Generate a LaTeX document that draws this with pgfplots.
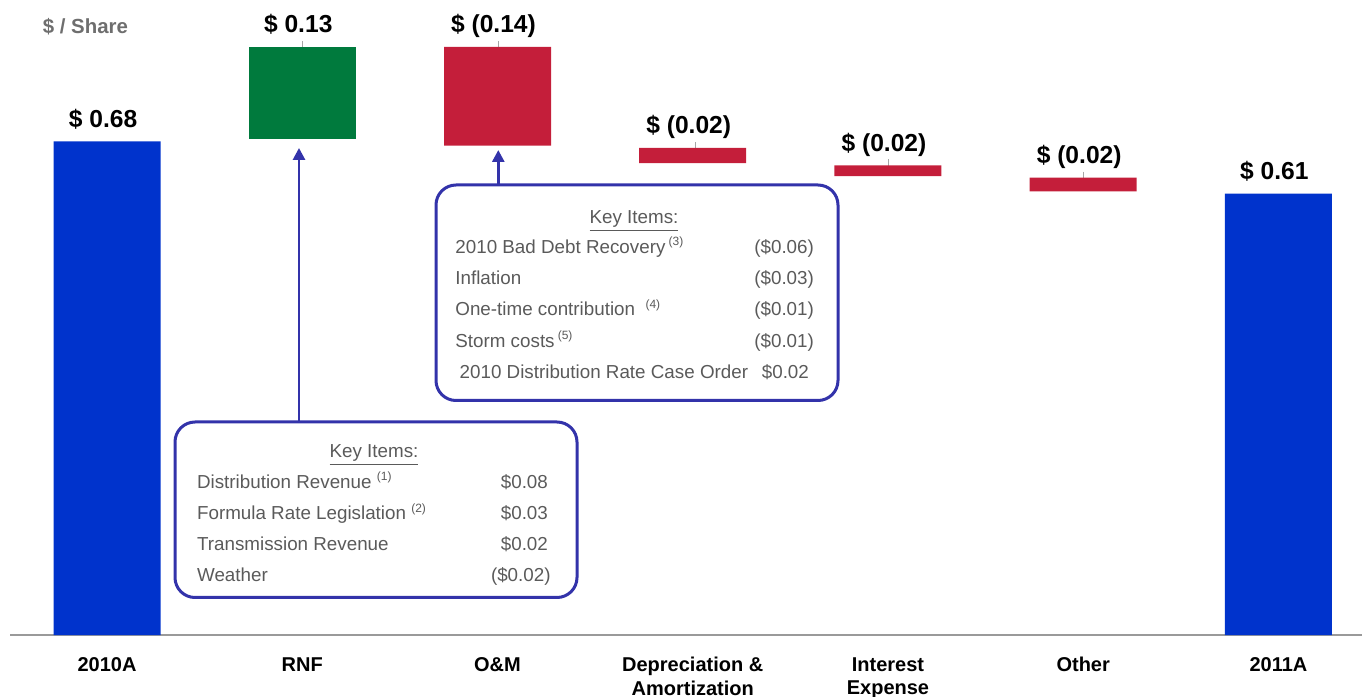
\documentclass[border=0pt]{standalone}
\usepackage{fontspec}
\setmainfont{Liberation Sans}
\usepackage{pgfplots}
\usepackage{pgfplotstable}
\pgfplotsset{compat=1.18}
\usetikzlibrary{arrows.meta}
\definecolor{barblue}{HTML}{0033CC}
\definecolor{bargreen}{HTML}{007A3D}
\definecolor{barred}{HTML}{C41E3A}
\definecolor{boxblue}{HTML}{3333AA}
\definecolor{txtgray}{HTML}{5A5A5A}
\definecolor{axgray}{HTML}{9A9A9A}
\definecolor{hdrgray}{HTML}{6E6E6E}

\pgfplotstableread{
x base total up down
0 0     0.680 0     0
1 0.683 0     0.127 0
2 0.674 0     0     0.136
3 0.650 0     0     0.021
4 0.632 0     0     0.015
5 0.611 0     0     0.019
6 0     0.608 0     0
}\wf

\newcommand{\boxf}{\fontsize{9.4}{11}\selectfont}
\newcommand{\fn}[1]{\textsuperscript{\fontsize{6}{7}\selectfont #1}}
\tikzset{
  lbl/.style={anchor=base, yshift=7pt, xshift=-2pt, inner sep=0pt, font=\fontsize{12.3}{14}\selectfont\bfseries},
  ldr/.style={gray!70, line width=0.5pt},
}

\begin{document}
\begin{tikzpicture}
\path[use as bounding box] (0,0) rectangle (681pt,348.5pt);
\begin{axis}[
  at={(5pt,31pt)}, anchor=south west, scale only axis,
  width=676pt, height=308.55pt,
  xmin=-0.497, xmax=6.428, ymin=0, ymax=0.85,
  ybar stacked, bar width=53.5pt,
  axis x line*=bottom, axis y line=none,
  axis line style={axgray, line width=0.75pt},
  xtick={0,1,2,3,4,5,6},
  xticklabels={2010A,RNF,O\&M,{Depreciation \&\\Amortization},{Interest\\Expense},Other,2011A},
  xticklabel style={font=\fontsize{10}{11.75}\selectfont\bfseries, align=center, anchor=north, inner sep=0pt, yshift=-11pt},
  major tick length=0pt, ytick=\empty,
  clip=false,
]
\addplot[draw=none, fill=none] table[x=x,y=base]{\wf};
\addplot[draw=none, fill=barblue] table[x=x,y=total]{\wf};
\addplot[draw=none, fill=bargreen] table[x=x,y=up]{\wf};
\addplot[draw=none, fill=barred] table[x=x,y=down]{\wf};

\node[lbl] at (axis cs:0,0.680) {\$ 0.68};
\node[lbl] at (axis cs:1,0.810) {\$ 0.13};
\node[lbl] at (axis cs:2,0.810) {\$ (0.14)};
\node[lbl] at (axis cs:3,0.671) {\$ (0.02)};
\node[lbl] at (axis cs:4,0.647) {\$ (0.02)};
\node[lbl] at (axis cs:5,0.630) {\$ (0.02)};
\node[lbl] at (axis cs:6,0.608) {\$ 0.61};

\draw[ldr] (axis cs:1,0.810) ++(0.3pt,3pt) -- ++(0pt,-8.5pt);
\draw[ldr] (axis cs:2,0.810) ++(0.3pt,3pt) -- ++(0pt,-8.5pt);
\draw[ldr] (axis cs:3,0.671) ++(1.2pt,3pt) -- ++(0pt,-6pt);
\draw[ldr] (axis cs:4,0.647) ++(0.3pt,3pt) -- ++(0pt,-6pt);
\draw[ldr] (axis cs:5,0.630) ++(0.3pt,3pt) -- ++(0pt,-6pt);
\end{axis}

\begin{scope}[x=0.5pt,y=-0.5pt,yshift=348.5pt]
\node[anchor=base west, inner sep=0pt, font=\fontsize{10.2}{12}\selectfont\bfseries, text=hdrgray] at (42.5,33.3) {\$ / Share};

% RNF box
\draw[boxblue, line width=1.5pt, rounded corners=10pt] (175,422) rectangle (577,597.5);
\draw[boxblue, line width=1.4pt, -{Triangle[length=6pt,width=6pt]}] (299,422) -- (299,148);
\begin{scope}[every node/.style={inner sep=0pt, font=\boxf, text=txtgray}]
\node[anchor=base] at (374,457.7) {\underline{Key Items:}};
\node[anchor=base west] at (196.7,488.3) {Distribution Revenue \fn{(1)}};
\node[anchor=base west] at (196.7,520) {Formula Rate Legislation \fn{(2)}};
\node[anchor=base west] at (196.7,551) {Transmission Revenue};
\node[anchor=base west] at (196.7,581.7) {Weather};
\node[anchor=base east] at (548.3,488.3) {\$0.08};
\node[anchor=base east] at (548.3,520) {\$0.03};
\node[anchor=base east] at (548.3,551) {\$0.02};
\node[anchor=base east] at (551,581.7) {(\$0.02)};
\end{scope}

% O&M box
\draw[boxblue, line width=1.5pt, rounded corners=10pt] (436,185) rectangle (838,400.5);
\draw[boxblue, line width=1.4pt, -{Triangle[length=6pt,width=6pt]}] (498.3,185) -- (498.3,150);
\begin{scope}[every node/.style={inner sep=0pt, font=\boxf, text=txtgray}]
\node[anchor=base] at (634,223.3) {\underline{Key Items:}};
\node[anchor=base west] at (455,253.3) {2010 Bad Debt Recovery\,\fn{(3)}};
\node[anchor=base west] at (455,284.3) {Inflation};
\node[anchor=base west] at (455,316) {One-time contribution \ \fn{(4)}};
\node[anchor=base west] at (455,347.3) {Storm costs\,\fn{(5)}};
\node[anchor=base west] at (459.3,378.3) {2010 Distribution Rate Case Order};
\node[anchor=base east] at (814.3,253.3) {(\$0.06)};
\node[anchor=base east] at (814.3,284.3) {(\$0.03)};
\node[anchor=base east] at (814.3,316) {(\$0.01)};
\node[anchor=base east] at (814.3,347.3) {(\$0.01)};
\node[anchor=base east] at (809.3,378.3) {\$0.02};
\end{scope}
\end{scope}
\end{tikzpicture}
\end{document}
